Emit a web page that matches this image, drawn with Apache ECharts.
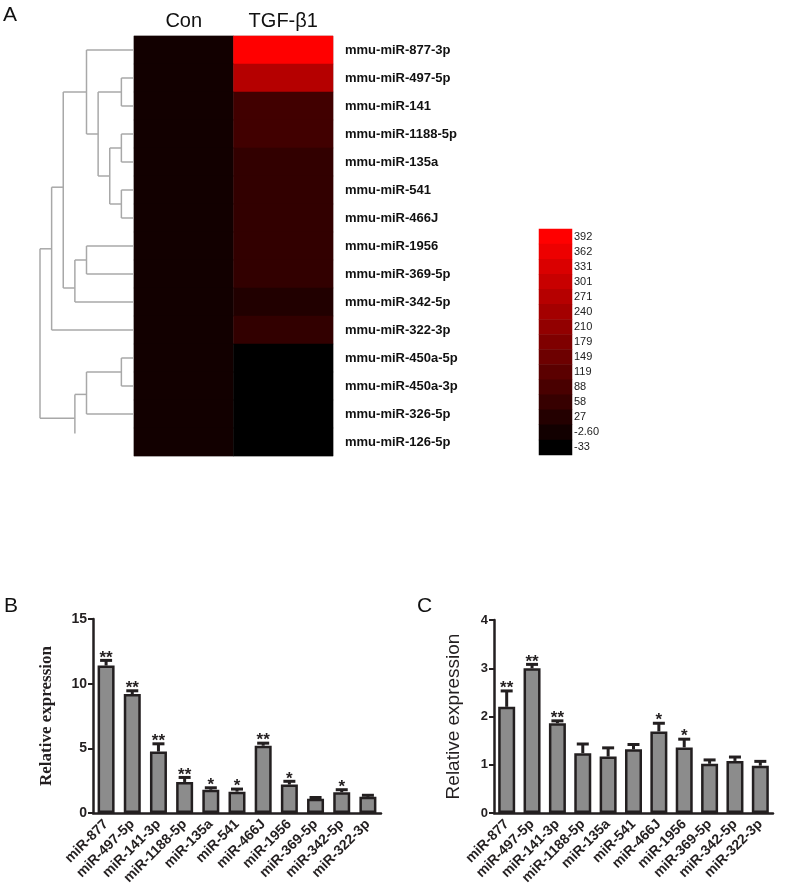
<!DOCTYPE html>
<html>
<head>
<meta charset="utf-8">
<script src="https://cdn.jsdelivr.net/npm/echarts@6/dist/echarts.min.js"></script>
<style>
html,body{margin:0;padding:0;background:#fff;}
#chart{width:787px;height:896px;}
</style>
</head>
<body>
<div id="chart"></div>
<script>
// ---------- Panel A: heatmap ----------
const heatRows = ['mmu-miR-877-3p','mmu-miR-497-5p','mmu-miR-141','mmu-miR-1188-5p','mmu-miR-135a','mmu-miR-541','mmu-miR-466J','mmu-miR-1956','mmu-miR-369-5p','mmu-miR-342-5p','mmu-miR-322-3p','mmu-miR-450a-5p','mmu-miR-450a-3p','mmu-miR-326-5p','mmu-miR-126-5p'];
const heatCols = ['Con','TGF-β1'];
const conValues = [-2.6,-2.6,-2.6,-2.6,-2.6,-2.6,-2.6,-2.6,-2.6,-2.6,-2.6,-2.6,-2.6,-2.6,-2.6];
const tgfValues = [392,268,75,75,50,50,50,50,50,22,50,-33,-33,-33,-33];
const scaleLabels = ['392','362','331','301','271','240','210','179','149','119','88','58','27','-2.60','-33'];
// dendrogram segments: [height1, leaf1, height2, leaf2]
const dendroSegments = [
  [0,0,4,0],
  [0,1,1,1],[0,2,1,2],[1,1,1,2],[1,1.5,3,1.5],
  [0,3,1,3],[0,4,1,4],[1,3,1,4],[1,3.5,2,3.5],
  [0,5,1,5],[0,6,1,6],[1,5,1,6],[1,5.5,2,5.5],
  [2,3.5,2,5.5],[2,4.5,3,4.5],
  [3,1.5,3,4.5],[3,3,4,3],
  [4,0,4,3],[4,1.5,6,1.5],
  [0,7,4,7],[0,8,4,8],[4,7,4,8],[4,7.5,5,7.5],
  [0,9,5,9],[5,7.5,5,9],[5,8.5,6,8.5],
  [6,1.5,6,8.5],[6,4.9,7,4.9],
  [0,10,7,10],[7,4.9,7,10],[7,7.1,8,7.1],
  [0,11,1,11],[0,12,1,12],[1,11,1,12],[1,11.5,4,11.5],
  [0,13,4,13],[4,11.5,4,13],[4,12.3,5,12.3],
  [5,12.3,5,13.7],[5,13.15,8,13.15],
  [8,7.1,8,13.15]
];

// ---------- Panels B and C ----------
const barCategories = ['miR-877','miR-497-5p','miR-141-3p','miR-1188-5p','miR-135a','miR-541','miR-466J','miR-1956','miR-369-5p','miR-342-5p','miR-322-3p'];
const bMeans = [11.4,9.2,4.75,2.4,1.8,1.65,5.2,2.2,1.1,1.6,1.25];
const bErrors = [0.4,0.25,0.6,0.35,0.15,0.2,0.2,0.25,0.1,0.2,0.12];
const bStars = ['**','**','**','**','*','*','**','*','','*',''];
const cMeans = [2.2,3.0,1.86,1.24,1.17,1.32,1.69,1.36,1.02,1.08,0.98];
const cErrors = [0.33,0.08,0.05,0.19,0.18,0.1,0.17,0.17,0.08,0.08,0.09];
const cStars = ['**','**','**','','','','*','*','','',''];

const DARK = '#231f20';
const chart = echarts.init(document.getElementById('chart'), null, {renderer:'canvas'});

const heatData = [];
heatRows.forEach((r,i)=>{ heatData.push([0,i,conValues[i]]); heatData.push([1,i,tgfValues[i]]); });
const scaleData = scaleLabels.map((l,i)=>[0,i,parseFloat(l)]);

function errorSeries(gridAxisIdx, means, errs, stars, starSize){
  return {
    type:'custom', xAxisIndex:gridAxisIdx, yAxisIndex:gridAxisIdx, z:5,
    data: means.map((m,i)=>[i,m,errs[i]]),
    encode:{x:0,y:1},
    renderItem:function(params, api){
      const i = api.value(0), m = api.value(1), e = api.value(2);
      const p0 = api.coord([i,m]);
      const p1 = api.coord([i,m+e]);
      const children = [
        {type:'line', shape:{x1:p0[0],y1:p0[1],x2:p1[0],y2:p1[1]}, style:{stroke:DARK,lineWidth:3}},
        {type:'line', shape:{x1:p1[0]-6,y1:p1[1],x2:p1[0]+6,y2:p1[1]}, style:{stroke:DARK,lineWidth:3}}
      ];
      const s = stars[params.dataIndex];
      if (s) children.push({type:'text', style:{text:s, x:p1[0], y:p1[1]+6, align:'center', verticalAlign:'bottom', fontSize:starSize, fontWeight:'bold', fontFamily:'Arial, Liberation Sans', fill:DARK}});
      return {type:'group', children:children};
    }
  };
}

function barX(gridIdx){
  return {type:'category', gridIndex:gridIdx, data:barCategories,
    axisLine:{lineStyle:{color:DARK,width:2.5}},
    axisTick:{alignWithLabel:true,length:5,lineStyle:{color:DARK,width:2}},
    axisLabel:{interval:0, rotate:45, margin:9, fontSize:14, fontWeight:'bold', color:DARK, fontFamily:'Arial, Liberation Sans'}};
}

const option = {
  animation:false,
  backgroundColor:'#fff',
  graphic:[
    {type:'text', left:3, top:5, style:{text:'A', fontSize:21, fill:'#111', fontFamily:'Arial, Liberation Sans'}},
    {type:'text', left:4, top:596, style:{text:'B', fontSize:21, fill:'#111', fontFamily:'Arial, Liberation Sans'}},
    {type:'text', left:417, top:596, style:{text:'C', fontSize:21, fill:'#111', fontFamily:'Arial, Liberation Sans'}}
  ],
  visualMap:{type:'continuous', show:false, min:-33, max:392, seriesIndex:[1,2], inRange:{color:['#000000','#ff0000']}},
  grid:[
    {left:40, top:36, width:93, height:420},
    {left:134, top:36, width:199, height:420, show:true, borderColor:'#bbb', borderWidth:1, backgroundColor:'transparent'},
    {left:539, top:229, width:33, height:226},
    {left:93, top:619, width:288, height:194},
    {left:494, top:620, width:279, height:193}
  ],
  xAxis:[
    {type:'value', gridIndex:0, min:0, max:8, inverse:true, show:false},
    {type:'category', gridIndex:1, data:heatCols, position:'top', axisLine:{show:false}, axisTick:{show:false},
      axisLabel:{fontSize:20, color:'#111', margin:5, fontFamily:'Arial, Liberation Sans'}},
    {type:'category', gridIndex:2, data:['s'], show:false},
    barX(3),
    barX(4)
  ],
  yAxis:[
    {type:'value', gridIndex:0, min:-0.5, max:14.5, inverse:true, show:false},
    {type:'category', gridIndex:1, data:heatRows, inverse:true, position:'right', axisLine:{show:false}, axisTick:{show:false},
      axisLabel:{fontSize:13, fontWeight:'bold', color:'#111', margin:12, fontFamily:'Arial, Liberation Sans'}},
    {type:'category', gridIndex:2, data:scaleLabels, inverse:true, position:'right', axisLine:{show:false}, axisTick:{show:false},
      axisLabel:{fontSize:11, color:'#222', margin:2, padding:[5,0,0,0], fontFamily:'Arial, Liberation Sans'}},
    {type:'value', gridIndex:3, min:0, max:15, interval:5,
      name:'Relative expression', nameLocation:'middle', nameGap:38,
      nameTextStyle:{fontSize:17, fontWeight:'bold', color:DARK, fontFamily:'Liberation Serif, Times New Roman, serif'},
      axisLine:{show:true, lineStyle:{color:DARK,width:2.5}}, axisTick:{show:true,length:5,lineStyle:{color:DARK,width:2}},
      splitLine:{show:false}, axisLabel:{fontSize:14, fontWeight:'bold', color:DARK, margin:6, fontFamily:'Arial, Liberation Sans'}},
    {type:'value', gridIndex:4, min:0, max:4, interval:1,
      name:'Relative expression', nameLocation:'middle', nameGap:31,
      nameTextStyle:{fontSize:19, color:DARK, fontFamily:'Arial, Liberation Sans'},
      axisLine:{show:true, lineStyle:{color:DARK,width:2.5}}, axisTick:{show:true,length:5,lineStyle:{color:DARK,width:2}},
      splitLine:{show:false}, axisLabel:{fontSize:13, fontWeight:'bold', color:DARK, margin:6, fontFamily:'Arial, Liberation Sans'}}
  ],
  series:[
    {type:'custom', xAxisIndex:0, yAxisIndex:0, data:dendroSegments, encode:{x:[0,2], y:[1,3]},
      renderItem:function(params, api){
        const a = api.coord([api.value(0), api.value(1)]);
        const b = api.coord([api.value(2), api.value(3)]);
        return {type:'line', shape:{x1:a[0],y1:a[1],x2:b[0],y2:b[1]}, style:{stroke:'#a8a8a8', lineWidth:1.5}};
      }},
    {type:'heatmap', xAxisIndex:1, yAxisIndex:1, data:heatData, itemStyle:{borderWidth:0}},
    {type:'heatmap', xAxisIndex:2, yAxisIndex:2, data:scaleData, itemStyle:{borderWidth:0}},
    {type:'bar', xAxisIndex:3, yAxisIndex:3, data:bMeans, barWidth:17,
      itemStyle:{color:'#8c8c8c', borderColor:DARK, borderWidth:2.5}},
    errorSeries(3, bMeans, bErrors, bStars, 17),
    {type:'bar', xAxisIndex:4, yAxisIndex:4, data:cMeans, barWidth:17,
      itemStyle:{color:'#8c8c8c', borderColor:DARK, borderWidth:2.5}},
    errorSeries(4, cMeans, cErrors, cStars, 17)
  ]
};
chart.setOption(option);
</script>
</body>
</html>
